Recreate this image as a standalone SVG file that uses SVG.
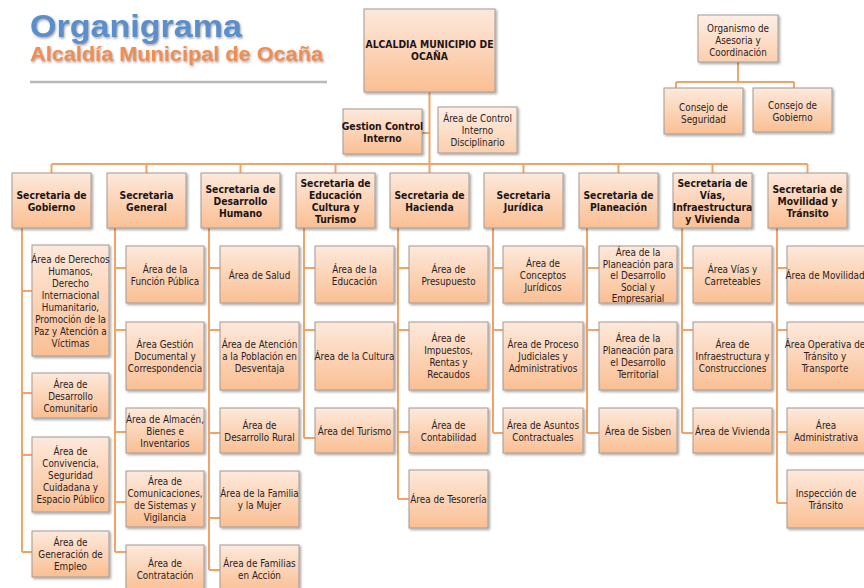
<svg xmlns="http://www.w3.org/2000/svg" width="864" height="588" viewBox="0 0 864 588">
<defs>
<linearGradient id="peach" x1="0" y1="0" x2="0" y2="1">
<stop offset="0" stop-color="#fde9dc"/>
<stop offset="1" stop-color="#fabf93"/>
</linearGradient>
<linearGradient id="peach2" x1="0" y1="0" x2="0" y2="1">
<stop offset="0" stop-color="#fdeee4"/>
<stop offset="1" stop-color="#fbcfae"/>
</linearGradient>
<filter id="sh" x="-10%" y="-10%" width="130%" height="130%">
<feDropShadow dx="1.5" dy="1.5" stdDeviation="1" flood-color="#000" flood-opacity="0.35"/>
</filter>
<filter id="tsh" x="-5%" y="-20%" width="110%" height="150%">
<feDropShadow dx="1" dy="1.5" stdDeviation="0.8" flood-color="#666" flood-opacity="0.6"/>
</filter>
</defs>
<style>
rect.b{fill:url(#peach);stroke:#a49a94;stroke-width:1;filter:url(#sh)}
rect.l{fill:url(#peach2);stroke:#a49a94;stroke-width:1;filter:url(#sh)}
text{font-family:"Liberation Sans Narrow","DejaVu Sans Condensed","Liberation Sans",sans-serif;text-anchor:middle;fill:#2a1d24;font-size:9.8px}
text.h{font-weight:bold;font-size:10.3px;fill:#1d1414}
.c path{fill:none;stroke:#f5a267;stroke-width:2}
</style>
<rect width="864" height="588" fill="#ffffff"/>
<g id="title" filter="url(#tsh)">
<text x="30" y="37" style="text-anchor:start;font-family:'Liberation Sans',Arial,sans-serif;font-weight:bold;font-size:31px;fill:#5a8fcb" textLength="212" lengthAdjust="spacingAndGlyphs">Organigrama</text>
<text x="30" y="61" style="text-anchor:start;font-family:'Liberation Sans',Arial,sans-serif;font-weight:bold;font-size:21px;fill:#f28d4f" textLength="293" lengthAdjust="spacingAndGlyphs">Alcaldía Municipal de Ocaña</text>
</g>
<line x1="30" y1="82" x2="327" y2="82" stroke="#b8b8b8" stroke-width="2.5"/>

<g class="c" id="connectors">
<path d="M429.5 92V164M422 133H429.5"/>
<path d="M51.5 164H807.5M51.5 164V173M146.5 164V173M240.5 164V173M335.5 164V173M523.5 164V173M618.5 164V173M712.5 164V173M807.5 164V173M429.5 164V173"/>
<path d="M738 62V82M676 82H794M676 82V88M794 82V88"/>
<path d="M22 228V552M22 291H32M22 393H32M22 455H32M22 552H32"/>
<path d="M115 228V552M115 268H126M115 330H126M115 432H126M115 502H126M115 552H126"/>
<path d="M209 228V570M209 268H220M209 330H220M209 433H220M209 518H220M209 570H220"/>
<path d="M304 228V438M304 268H315M304 330H315M304 438H315"/>
<path d="M398 228V499M398 268H409M398 330H409M398 432H409M398 499H409"/>
<path d="M493 228V433M493 268H503M493 330H503M493 433H503"/>
<path d="M587 228V433M587 268H599M587 330H599M587 433H599"/>
<path d="M682 228V433M682 268H693M682 330H693M682 433H693"/>
<path d="M777 228V503M777 268H787M777 330H787M777 432H787M777 503H787"/>
</g>

<g id="alcaldia"><rect class="b" x="364" y="9" width="131" height="83"/><text class="h"><tspan x="429.5" y="48">ALCALDIA MUNICIPIO DE</tspan><tspan x="429.5" y="60">OCAÑA</tspan></text></g>
<g id="gestion"><rect class="b" x="343" y="109" width="79" height="45"/><text class="h"><tspan x="382.5" y="130">Gestion Control</tspan><tspan x="382.5" y="142">Interno</tspan></text></g>
<g id="disciplinario"><rect class="l" x="438" y="107" width="79" height="46"/><text><tspan x="477.5" y="122">Área de Control</tspan><tspan x="477.5" y="134">Interno</tspan><tspan x="477.5" y="146">Disciplinario</tspan></text></g>
<g id="organismo"><rect class="l" x="698" y="15" width="80" height="47"/><text><tspan x="738" y="32">Organismo de</tspan><tspan x="738" y="44">Asesoria  y</tspan><tspan x="738" y="56">Coordinación</tspan></text></g>
<g id="seguridad"><rect class="b" x="664" y="88" width="79" height="46"/><text><tspan x="703.5" y="110.5">Consejo de</tspan><tspan x="703.5" y="122.5">Seguridad</tspan></text></g>
<g id="consejo-gobierno"><rect class="b" x="753" y="88" width="79" height="44"/><text><tspan x="792.5" y="109">Consejo de</tspan><tspan x="792.5" y="121">Gobierno</tspan></text></g>

<g id="sec-gobierno"><rect class="b" x="12" y="173" width="79" height="55"/><text class="h"><tspan x="51.5" y="198.5">Secretaria de</tspan><tspan x="51.5" y="210.5">Gobierno</tspan></text></g>
<g id="sec-general"><rect class="b" x="107" y="173" width="79" height="55"/><text class="h"><tspan x="146.5" y="198.5">Secretaria</tspan><tspan x="146.5" y="210.5">General</tspan></text></g>
<g id="sec-desarrollo"><rect class="b" x="201" y="173" width="79" height="55"/><text class="h"><tspan x="240.5" y="192.5">Secretaria de</tspan><tspan x="240.5" y="204.5">Desarrollo</tspan><tspan x="240.5" y="216.5">Humano</tspan></text></g>
<g id="sec-educacion"><rect class="b" x="296" y="173" width="79" height="55"/><text class="h"><tspan x="335.5" y="186.5">Secretaria de</tspan><tspan x="335.5" y="198.5">Educación</tspan><tspan x="335.5" y="210.5">Cultura y</tspan><tspan x="335.5" y="222.5">Turismo</tspan></text></g>
<g id="sec-hacienda"><rect class="b" x="390" y="173" width="79" height="55"/><text class="h"><tspan x="429.5" y="198.5">Secretaria de</tspan><tspan x="429.5" y="210.5">Hacienda</tspan></text></g>
<g id="sec-juridica"><rect class="b" x="484" y="173" width="79" height="55"/><text class="h"><tspan x="523.5" y="198.5">Secretaria</tspan><tspan x="523.5" y="210.5">Jurídica</tspan></text></g>
<g id="sec-planeacion"><rect class="b" x="579" y="173" width="79" height="55"/><text class="h"><tspan x="618.5" y="198.5">Secretaria de</tspan><tspan x="618.5" y="210.5">Planeación</tspan></text></g>
<g id="sec-vias"><rect class="b" x="673" y="173" width="79" height="55"/><text class="h"><tspan x="712.5" y="186.5">Secretaria de</tspan><tspan x="712.5" y="198.5">Vías,</tspan><tspan x="712.5" y="210.5">Infraestructura</tspan><tspan x="712.5" y="222.5">y Vivienda</tspan></text></g>
<g id="sec-movilidad"><rect class="b" x="768" y="173" width="79" height="55"/><text class="h"><tspan x="807.5" y="192.5">Secretaria de</tspan><tspan x="807.5" y="204.5">Movilidad y</tspan><tspan x="807.5" y="216.5">Tránsito</tspan></text></g>

<g id="a-derechos"><rect class="b" x="32" y="245" width="77" height="111"/><text><tspan x="70.5" y="262.5">Área de Derechos</tspan><tspan x="70.5" y="274.5">Humanos,</tspan><tspan x="70.5" y="286.5">Derecho</tspan><tspan x="70.5" y="298.5">Internacional</tspan><tspan x="70.5" y="310.5">Humanitario,</tspan><tspan x="70.5" y="322.5">Promoción de la</tspan><tspan x="70.5" y="334.5">Paz y Atención a</tspan><tspan x="70.5" y="346.5">Víctimas</tspan></text></g>
<g id="a-comunitario"><rect class="b" x="32" y="373" width="77" height="45"/><text><tspan x="70.5" y="387.5">Área de</tspan><tspan x="70.5" y="399.5">Desarrollo</tspan><tspan x="70.5" y="411.5">Comunitario</tspan></text></g>
<g id="a-convivencia"><rect class="b" x="32" y="437" width="77" height="75"/><text><tspan x="70.5" y="454.5">Área de</tspan><tspan x="70.5" y="466.5">Convivencia,</tspan><tspan x="70.5" y="478.5">Seguridad</tspan><tspan x="70.5" y="490.5">Cuidadana y</tspan><tspan x="70.5" y="502.5">Espacio Público</tspan></text></g>
<g id="a-empleo"><rect class="b" x="32" y="531" width="77" height="46"/><text><tspan x="70.5" y="546">Área de</tspan><tspan x="70.5" y="558">Generación de</tspan><tspan x="70.5" y="570">Empleo</tspan></text></g>

<g id="a-funcion"><rect class="b" x="126" y="246" width="78" height="57"/><text><tspan x="165" y="272.5">Área de la</tspan><tspan x="165" y="284.5">Función Pública</tspan></text></g>
<g id="a-gestion-doc"><rect class="b" x="126" y="322" width="78" height="68"/><text><tspan x="165" y="348">Área Gestión</tspan><tspan x="165" y="360">Documental y</tspan><tspan x="165" y="372">Correspondencia</tspan></text></g>
<g id="a-almacen"><rect class="b" x="126" y="408" width="78" height="45"/><text><tspan x="165" y="422.5">Área de Almacén,</tspan><tspan x="165" y="434.5">Bienes e</tspan><tspan x="165" y="446.5">Inventarios</tspan></text></g>
<g id="a-comunicaciones"><rect class="b" x="126" y="471" width="78" height="56"/><text><tspan x="165" y="485">Área de</tspan><tspan x="165" y="497">Comunicaciones,</tspan><tspan x="165" y="509">de Sistemas y</tspan><tspan x="165" y="521">Vigilancia</tspan></text></g>
<g id="a-contratacion"><rect class="b" x="126" y="545" width="78" height="47"/><text><tspan x="165" y="566.5">Área de</tspan><tspan x="165" y="578.5">Contratación</tspan></text></g>

<g id="a-salud"><rect class="b" x="220" y="246" width="79" height="57"/><text><tspan x="259.5" y="278.5">Área de Salud</tspan></text></g>
<g id="a-atencion"><rect class="b" x="220" y="322" width="79" height="68"/><text><tspan x="259.5" y="348">Área de Atención</tspan><tspan x="259.5" y="360">a la Población en</tspan><tspan x="259.5" y="372">Desventaja</tspan></text></g>
<g id="a-rural"><rect class="b" x="220" y="408" width="79" height="45"/><text><tspan x="259.5" y="428.5">Área de</tspan><tspan x="259.5" y="440.5">Desarrollo Rural</tspan></text></g>
<g id="a-familia"><rect class="b" x="220" y="471" width="79" height="56"/><text><tspan x="259.5" y="497">Área de la Familia</tspan><tspan x="259.5" y="509">y la Mujer</tspan></text></g>
<g id="a-familias-accion"><rect class="b" x="220" y="545" width="79" height="47"/><text><tspan x="259.5" y="566.5">Área de Familias</tspan><tspan x="259.5" y="578.5">en Acción</tspan></text></g>

<g id="a-educacion"><rect class="b" x="315" y="246" width="79" height="57"/><text><tspan x="354.5" y="272.5">Área de la</tspan><tspan x="354.5" y="284.5">Educación</tspan></text></g>
<g id="a-cultura"><rect class="b" x="315" y="322" width="79" height="68"/><text><tspan x="354.5" y="360">Área de la Cultura</tspan></text></g>
<g id="a-turismo"><rect class="b" x="315" y="408" width="79" height="45"/><text><tspan x="354.5" y="434.5">Área del Turismo</tspan></text></g>

<g id="a-presupuesto"><rect class="b" x="409" y="246" width="79" height="57"/><text><tspan x="448.5" y="272.5">Área de</tspan><tspan x="448.5" y="284.5">Presupuesto</tspan></text></g>
<g id="a-impuestos"><rect class="b" x="409" y="322" width="79" height="68"/><text><tspan x="448.5" y="342">Área de</tspan><tspan x="448.5" y="354">Impuestos,</tspan><tspan x="448.5" y="366">Rentas y</tspan><tspan x="448.5" y="378">Recaudos</tspan></text></g>
<g id="a-contabilidad"><rect class="b" x="409" y="408" width="79" height="45"/><text><tspan x="448.5" y="428.5">Área de</tspan><tspan x="448.5" y="440.5">Contabilidad</tspan></text></g>
<g id="a-tesoreria"><rect class="b" x="409" y="470" width="79" height="58"/><text><tspan x="448.5" y="503">Área de Tesorería</tspan></text></g>

<g id="a-conceptos"><rect class="b" x="503" y="246" width="80" height="57"/><text><tspan x="543" y="266.5">Área de</tspan><tspan x="543" y="278.5">Conceptos</tspan><tspan x="543" y="290.5">Jurídicos</tspan></text></g>
<g id="a-procesos"><rect class="b" x="503" y="322" width="80" height="68"/><text><tspan x="543" y="348">Área de Proceso</tspan><tspan x="543" y="360">Judiciales y</tspan><tspan x="543" y="372">Administrativos</tspan></text></g>
<g id="a-asuntos"><rect class="b" x="503" y="408" width="80" height="45"/><text><tspan x="543" y="428.5">Área de Asuntos</tspan><tspan x="543" y="440.5">Contractuales</tspan></text></g>

<g id="a-plan-social"><rect class="b" x="599" y="246" width="78" height="57"/><text><tspan x="638" y="256">Área de la</tspan><tspan x="638" y="267.5">Planeación para</tspan><tspan x="638" y="279">el Desarrollo</tspan><tspan x="638" y="290.5">Social y</tspan><tspan x="638" y="302">Empresarial</tspan></text></g>
<g id="a-plan-territorial"><rect class="b" x="599" y="322" width="78" height="68"/><text><tspan x="638" y="342">Área de la</tspan><tspan x="638" y="354">Planeación para</tspan><tspan x="638" y="366">el Desarrollo</tspan><tspan x="638" y="378">Territorial</tspan></text></g>
<g id="a-sisben"><rect class="b" x="599" y="408" width="78" height="45"/><text><tspan x="638" y="434.5">Área de Sisben</tspan></text></g>

<g id="a-vias"><rect class="b" x="693" y="246" width="79" height="57"/><text><tspan x="732.5" y="272.5">Área Vías y</tspan><tspan x="732.5" y="284.5">Carreteables</tspan></text></g>
<g id="a-infraestructura"><rect class="b" x="693" y="322" width="79" height="68"/><text><tspan x="732.5" y="348">Área de</tspan><tspan x="732.5" y="360">Infraestructura y</tspan><tspan x="732.5" y="372">Construcciones</tspan></text></g>
<g id="a-vivienda"><rect class="b" x="693" y="408" width="79" height="45"/><text><tspan x="732.5" y="434.5">Área de Vivienda</tspan></text></g>

<g id="a-movilidad"><rect class="b" x="787" y="246" width="80" height="57"/><text><tspan x="825" y="278.5">Área de Movilidad</tspan></text></g>
<g id="a-operativa"><rect class="b" x="787" y="322" width="80" height="68"/><text><tspan x="825" y="348">Área Operativa de</tspan><tspan x="825" y="360">Tránsito y</tspan><tspan x="825" y="372">Transporte</tspan></text></g>
<g id="a-administrativa"><rect class="b" x="787" y="408" width="80" height="45"/><text><tspan x="826" y="428.5">Área</tspan><tspan x="826" y="440.5">Administrativa</tspan></text></g>
<g id="a-inspeccion"><rect class="b" x="787" y="470" width="80" height="58"/><text><tspan x="826" y="497">Inspección de</tspan><tspan x="826" y="509">Tránsito</tspan></text></g>
</svg>
